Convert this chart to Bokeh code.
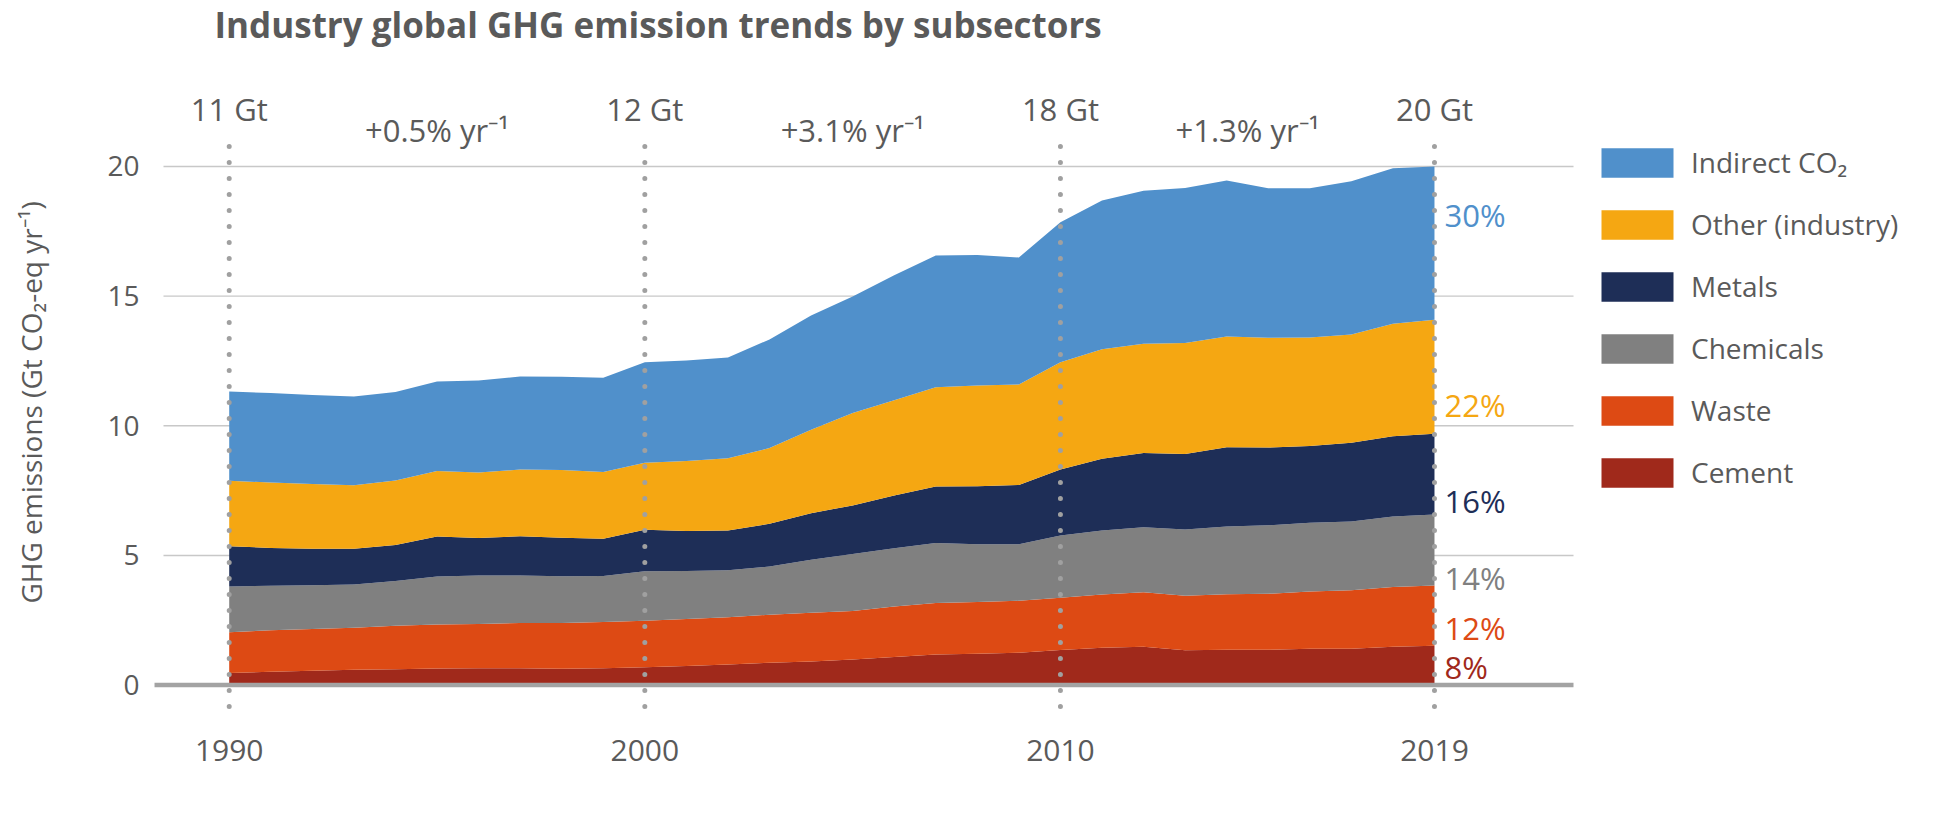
import math
from bokeh.plotting import figure
from bokeh.models import ColumnDataSource, FixedTicker, Legend, LegendItem, Range1d
from bokeh.core.properties import value
from bokeh.embed import file_html
from bokeh.resources import INLINE

FONT = "Open Sans"
TXT = "#5a5a5a"

# ---------------- data (Gt CO2-eq / yr) ----------------
years = list(range(1990, 2020))
cement = [0.47, 0.51, 0.55, 0.59, 0.61, 0.64, 0.65, 0.65, 0.63, 0.65,
          0.69, 0.74, 0.79, 0.86, 0.91, 0.99, 1.08, 1.18, 1.21, 1.25,
          1.35, 1.44, 1.48, 1.34, 1.36, 1.36, 1.40, 1.40, 1.48, 1.52]
waste = [1.57, 1.60, 1.61, 1.62, 1.68, 1.70, 1.71, 1.74, 1.76, 1.78,
         1.79, 1.81, 1.83, 1.85, 1.88, 1.87, 1.95, 1.99, 1.99, 2.00,
         2.02, 2.05, 2.10, 2.11, 2.14, 2.16, 2.21, 2.26, 2.30, 2.32]
chemicals = [1.76, 1.72, 1.69, 1.67, 1.72, 1.85, 1.87, 1.84, 1.81, 1.78,
             1.91, 1.85, 1.81, 1.86, 2.04, 2.20, 2.25, 2.31, 2.23, 2.18,
             2.40, 2.47, 2.51, 2.55, 2.62, 2.64, 2.65, 2.65, 2.72, 2.74]
metals = [1.55, 1.46, 1.41, 1.38, 1.39, 1.54, 1.44, 1.51, 1.48, 1.43,
          1.60, 1.54, 1.53, 1.65, 1.80, 1.87, 2.03, 2.18, 2.24, 2.29,
          2.54, 2.77, 2.86, 2.91, 3.05, 3.00, 2.96, 3.04, 3.10, 3.11]
other = [2.53, 2.52, 2.49, 2.45, 2.49, 2.53, 2.53, 2.57, 2.61, 2.58,
         2.58, 2.70, 2.79, 2.92, 3.22, 3.56, 3.67, 3.83, 3.88, 3.87,
         4.14, 4.22, 4.21, 4.28, 4.27, 4.23, 4.18, 4.17, 4.33, 4.40]
indirect = [3.44, 3.45, 3.44, 3.42, 3.41, 3.45, 3.55, 3.59, 3.60, 3.63,
            3.88, 3.88, 3.88, 4.19, 4.40, 4.50, 4.82, 5.08, 5.04, 4.90,
            5.40, 5.74, 5.90, 5.98, 6.02, 5.77, 5.76, 5.91, 6.00, 5.91]

series_keys = ["cement", "waste", "chemicals", "metals", "other", "indirect"]
series_names = ["Cement", "Waste", "Chemicals", "Metals", "Other (industry)", "Indirect CO\u2082"]
series_colors = ["#a0291b", "#dd4a14", "#808080", "#1e2e57", "#f5a712", "#5090cb"]

share_labels = ["8%", "12%", "14%", "16%", "22%", "30%"]
share_label_y = [0.25, 1.72, 3.65, 6.62, 10.33, 17.65]

y_ticks = [0, 5, 10, 15, 20]
x_ticks = [1990, 2000, 2010, 2019]
x_tick_labels = ["1990", "2000", "2010", "2019"]

marker_years = [1990, 2000, 2010, 2019]
marker_totals = ["11 Gt", "12 Gt", "18 Gt", "20 Gt"]
rate_x = [1995, 2005, 2014.5]
rate_labels = ["+0.5% yr\u207b\u00b9", "+3.1% yr\u207b\u00b9", "+1.3% yr\u207b\u00b9"]

title_text = "Industry global GHG emission trends by subsectors"
y_axis_title = "GHG emissions (Gt CO\u2082-eq yr\u207b\u00b9)"

# ---------------- layout constants (data units) ----------------
X_START, X_END = 1984.497, 2031.055      # whole canvas width
Y_START, Y_END = -5.299, 26.40           # whole canvas height
GRID_X0, GRID_X1 = 1988.419, 2022.345    # extent of grid lines
ZERO_X0 = 1988.203                       # zero line starts a bit further left
X_AXIS_Y = -1.442                        # where the year labels hang from
TOTAL_LABEL_Y = 21.77
RATE_LABEL_Y = 20.93
DOT_TOP, DOT_BOTTOM = 20.77, -1.13
TITLE_X, TITLE_Y = 1989.646, 25.05
YTITLE_X, YTITLE_Y = 1985.219, 10.90
LABEL_SHIFT = -12    # px, baseline correction for annotation texts
TITLE_SHIFT = -11

source = ColumnDataSource(dict(year=years, cement=cement, waste=waste, chemicals=chemicals,
                               metals=metals, other=other, indirect=indirect))

p = figure(width=1935, height=822, output_backend="svg", toolbar_location=None,
           x_range=Range1d(X_START, X_END), y_range=Range1d(Y_START, Y_END),
           min_border=0, min_border_left=0, min_border_right=0,
           min_border_top=0, min_border_bottom=0)
p.outline_line_color = None
p.background_fill_color = "white"
p.border_fill_color = "white"
p.xgrid.visible = False
p.ygrid.visible = False

# y axis drawn inside the canvas at the left edge of the grid
p.yaxis.fixed_location = GRID_X0
p.yaxis.ticker = FixedTicker(ticks=y_ticks)
p.yaxis.axis_line_color = None
p.yaxis.major_tick_line_color = None
p.yaxis.minor_tick_line_color = None
p.yaxis.major_label_text_font = FONT
p.yaxis.major_label_text_font_size = "28px"
p.yaxis.major_label_text_color = TXT
p.yaxis.major_label_standoff = 18

# x axis (year labels)
p.xaxis.fixed_location = X_AXIS_Y
p.xaxis.ticker = FixedTicker(ticks=x_ticks)
p.xaxis.major_label_overrides = dict(zip(x_ticks, x_tick_labels))
p.xaxis.axis_line_color = None
p.xaxis.major_tick_line_color = None
p.xaxis.minor_tick_line_color = None
p.xaxis.major_label_text_font = FONT
p.xaxis.major_label_text_font_size = "30px"
p.xaxis.major_label_text_color = TXT
p.xaxis.major_label_standoff = 12

# horizontal grid lines (behind the areas)
p.segment(x0=GRID_X0, x1=GRID_X1, y0=y_ticks[1:], y1=y_ticks[1:],
          line_color="#c8c8c8", line_width=1.4)

# stacked areas
renderers = p.varea_stack(stackers=series_keys, x="year", color=series_colors, source=source)

# zero line
p.segment(x0=ZERO_X0, x1=GRID_X1, y0=0, y1=0, line_color="#a3a3a3", line_width=4.5)

# dotted year markers
p.segment(x0=marker_years, x1=marker_years, y0=DOT_TOP, y1=DOT_BOTTOM,
          line_color="#a0a0a0", line_width=5, line_dash="0 16", line_cap="round")

# title and y-axis title
p.text(x=[TITLE_X], y=[TITLE_Y], text=[title_text], text_font=value(FONT),
       text_font_size="35px", text_font_style="bold", text_color=TXT,
       text_align="left", text_baseline="alphabetic", y_offset=TITLE_SHIFT)
p.text(x=[YTITLE_X], y=[YTITLE_Y], text=[y_axis_title], text_font=value(FONT),
       text_font_size="28px", text_color=TXT, angle=math.pi / 2,
       text_align="center", text_baseline="middle")

# annotations
p.text(x=marker_years, y=[TOTAL_LABEL_Y] * len(marker_years), text=marker_totals,
       text_font=value(FONT), text_font_size="31px", text_color=TXT,
       text_align="center", text_baseline="alphabetic", y_offset=LABEL_SHIFT)
p.text(x=rate_x, y=[RATE_LABEL_Y] * len(rate_x), text=rate_labels,
       text_font=value(FONT), text_font_size="31px", text_color=TXT,
       text_align="center", text_baseline="alphabetic", y_offset=LABEL_SHIFT)
p.text(x=[x_ticks[-1]] * len(share_labels), y=share_label_y, text=share_labels,
       text_font=value(FONT), text_font_size="31px", text_color=series_colors,
       text_align="left", text_baseline="alphabetic", x_offset=10, y_offset=LABEL_SHIFT)

# legend (area legend glyphs are inset by 10% on every side)
items = [LegendItem(label=n, renderers=[r]) for n, r in zip(series_names, renderers)][::-1]
legend = Legend(items=items, location=(1592, 330), glyph_width=90, glyph_height=37,
                label_height=40, label_standoff=9, spacing=22, padding=0, margin=0,
                label_text_font=FONT, label_text_font_size="28px", label_text_color=TXT,
                border_line_color=None, background_fill_alpha=0)
p.add_layout(legend)

open("out.html", "w").write(file_html(p, INLINE))
